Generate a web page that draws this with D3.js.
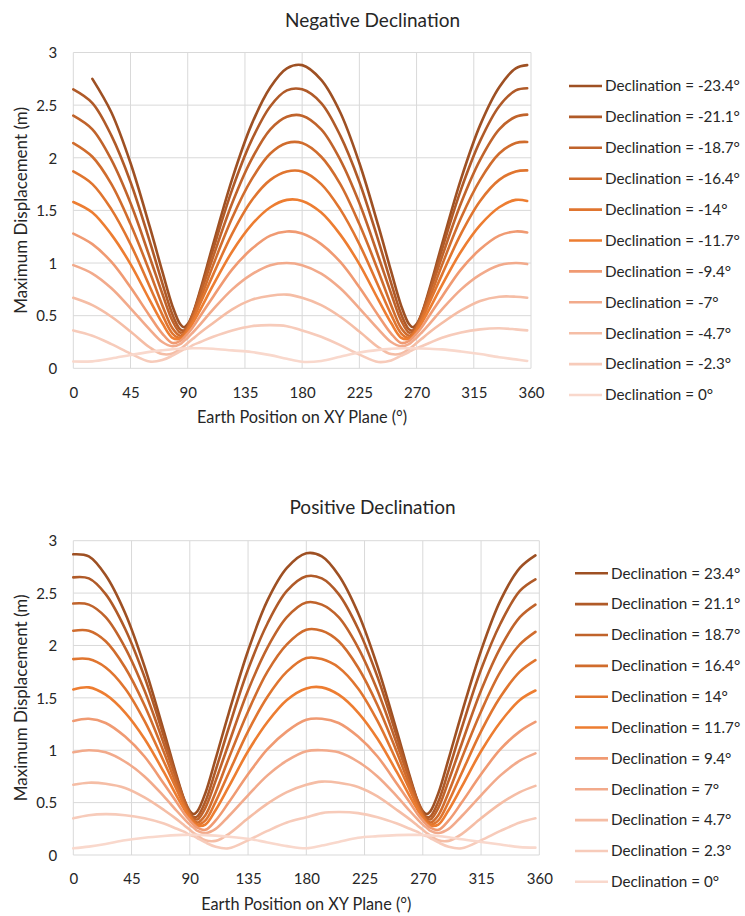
<!DOCTYPE html>
<html><head><meta charset="utf-8">
<script src="https://cdn.jsdelivr.net/npm/d3@7"></script>
<style>body{margin:0;background:#fff}</style>
</head><body>
<svg id="c" width="745" height="916"></svg>
<script>
// ---------- data ----------
const xTicks=[0,45,90,135,180,225,270,315,360];
const yTicks=[0,0.5,1,1.5,2,2.5,3];

const negTitle='Negative Declination';
const posTitle='Positive Declination';
const xTitle='Earth Position on XY Plane (°)';
const yTitle='Maximum Displacement (m)';

const negLabels=['Declination = -23.4°','Declination = -21.1°','Declination = -18.7°','Declination = -16.4°','Declination = -14°','Declination = -11.7°','Declination = -9.4°','Declination = -7°','Declination = -4.7°','Declination = -2.3°','Declination = 0°'];
const posLabels=['Declination = 23.4°','Declination = 21.1°','Declination = 18.7°','Declination = 16.4°','Declination = 14°','Declination = 11.7°','Declination = 9.4°','Declination = 7°','Declination = 4.7°','Declination = 2.3°','Declination = 0°'];

const topX=[0,15,30,45,60,70,78,84,87,90,94,100,110,125,140,155,168,180,195,210,225,240,250,258,264,267,270,274,280,290,305,320,335,348,357];
const neg234=[null,2.75,2.43,1.95,1.35,0.92,0.59,0.42,0.39,0.42,0.52,0.75,1.18,1.80,2.31,2.67,2.85,2.88,2.74,2.43,1.95,1.35,0.92,0.59,0.42,0.39,0.42,0.52,0.75,1.18,1.80,2.31,2.67,2.85,2.88];
const neg211=[2.65,2.52,2.21,1.77,1.21,0.81,0.51,0.37,0.36,0.40,0.51,0.73,1.13,1.70,2.16,2.49,2.64,2.65,2.52,2.21,1.77,1.21,0.81,0.51,0.37,0.36,0.40,0.51,0.73,1.13,1.70,2.16,2.49,2.64,2.66];
const neg187=[2.40,2.27,1.98,1.57,1.06,0.71,0.45,0.34,0.35,0.40,0.51,0.71,1.06,1.57,1.98,2.27,2.39,2.40,2.27,1.98,1.57,1.06,0.71,0.45,0.34,0.35,0.40,0.51,0.71,1.06,1.57,1.98,2.27,2.39,2.41];
const neg164=[2.14,2.01,1.75,1.37,0.92,0.60,0.38,0.31,0.33,0.38,0.48,0.66,0.98,1.43,1.79,2.04,2.14,2.14,2.01,1.75,1.37,0.92,0.60,0.38,0.31,0.33,0.38,0.48,0.66,0.98,1.43,1.79,2.04,2.14,2.15];
const neg140=[1.87,1.75,1.51,1.18,0.78,0.51,0.33,0.29,0.32,0.37,0.46,0.62,0.89,1.28,1.59,1.79,1.87,1.87,1.75,1.51,1.18,0.78,0.51,0.33,0.29,0.32,0.37,0.46,0.62,0.89,1.28,1.59,1.79,1.87,1.88];
const neg117=[1.58,1.48,1.27,0.99,0.65,0.43,0.29,0.28,0.30,0.35,0.43,0.56,0.79,1.11,1.36,1.53,1.60,1.59,1.48,1.27,0.99,0.65,0.43,0.29,0.28,0.30,0.35,0.43,0.56,0.79,1.11,1.36,1.53,1.60,1.59];
const neg094=[1.28,1.18,1.01,0.77,0.50,0.33,0.24,0.26,0.29,0.33,0.39,0.50,0.68,0.94,1.13,1.26,1.30,1.28,1.18,1.01,0.77,0.50,0.33,0.24,0.26,0.29,0.33,0.39,0.50,0.68,0.94,1.13,1.26,1.30,1.29];
const neg070=[0.98,0.90,0.76,0.57,0.37,0.25,0.21,0.23,0.26,0.29,0.34,0.42,0.56,0.75,0.89,0.98,1.00,0.98,0.90,0.76,0.57,0.37,0.25,0.21,0.23,0.26,0.29,0.34,0.42,0.56,0.75,0.89,0.98,1.00,0.99];
const neg047=[0.67,0.60,0.49,0.35,0.20,0.135,0.14,0.185,0.21,0.24,0.28,0.34,0.43,0.56,0.65,0.69,0.70,0.67,0.60,0.49,0.35,0.20,0.135,0.14,0.185,0.21,0.24,0.28,0.34,0.43,0.55,0.64,0.68,0.68,0.67];
const neg023=[0.36,0.31,0.23,0.14,0.064,0.078,0.12,0.16,0.18,0.19,0.22,0.25,0.30,0.36,0.40,0.41,0.40,0.36,0.30,0.22,0.13,0.06,0.075,0.12,0.155,0.175,0.19,0.21,0.24,0.29,0.34,0.37,0.38,0.37,0.36];
const neg000=[0.064,0.066,0.093,0.126,0.156,0.171,0.181,0.186,0.187,0.189,0.19,0.19,0.186,0.17,0.155,0.125,0.09,0.062,0.07,0.11,0.15,0.175,0.185,0.19,0.19,0.19,0.19,0.188,0.185,0.18,0.16,0.135,0.105,0.085,0.07];

const botX=[0,12,25,40,55,70,80,86,90,93,96,102,110,120,135,150,165,180,192,205,220,235,250,260,266,270,273,276,282,290,300,315,330,345,357];
const pos234=[2.87,2.85,2.67,2.31,1.80,1.18,0.75,0.52,0.42,0.39,0.42,0.59,0.92,1.35,1.95,2.43,2.74,2.88,2.85,2.67,2.31,1.80,1.18,0.75,0.52,0.42,0.39,0.42,0.59,0.92,1.35,1.95,2.43,2.74,2.86];
const pos211=[2.65,2.64,2.49,2.16,1.70,1.13,0.73,0.51,0.40,0.36,0.37,0.51,0.81,1.21,1.77,2.21,2.52,2.66,2.64,2.49,2.16,1.70,1.13,0.73,0.51,0.40,0.36,0.37,0.51,0.81,1.21,1.77,2.21,2.52,2.63];
const pos187=[2.40,2.39,2.27,1.98,1.57,1.06,0.71,0.51,0.40,0.35,0.34,0.45,0.71,1.06,1.57,1.98,2.27,2.41,2.39,2.27,1.98,1.57,1.06,0.71,0.51,0.40,0.35,0.34,0.45,0.71,1.06,1.57,1.98,2.27,2.39];
const pos164=[2.14,2.14,2.04,1.79,1.43,0.98,0.66,0.48,0.38,0.33,0.31,0.38,0.60,0.92,1.37,1.75,2.01,2.15,2.14,2.04,1.79,1.43,0.98,0.66,0.48,0.38,0.33,0.31,0.38,0.60,0.92,1.37,1.75,2.01,2.13];
const pos140=[1.87,1.87,1.79,1.59,1.28,0.89,0.62,0.46,0.37,0.32,0.29,0.33,0.51,0.78,1.18,1.51,1.75,1.88,1.87,1.79,1.59,1.28,0.89,0.62,0.46,0.37,0.32,0.29,0.33,0.51,0.78,1.18,1.51,1.75,1.86];
const pos117=[1.58,1.60,1.53,1.36,1.11,0.79,0.56,0.43,0.35,0.30,0.28,0.29,0.43,0.65,0.99,1.27,1.48,1.59,1.60,1.53,1.36,1.11,0.79,0.56,0.43,0.35,0.30,0.28,0.29,0.43,0.65,0.99,1.27,1.48,1.57];
const pos094=[1.28,1.30,1.26,1.13,0.94,0.68,0.50,0.39,0.33,0.29,0.26,0.24,0.33,0.50,0.77,1.01,1.18,1.29,1.30,1.26,1.13,0.94,0.68,0.50,0.39,0.33,0.29,0.26,0.24,0.33,0.50,0.77,1.01,1.18,1.27];
const pos070=[0.98,1.00,0.98,0.89,0.75,0.56,0.42,0.34,0.29,0.26,0.23,0.21,0.25,0.37,0.57,0.76,0.90,0.99,1.00,0.98,0.89,0.75,0.56,0.42,0.34,0.29,0.26,0.23,0.21,0.25,0.37,0.57,0.76,0.90,0.97];
const pos047=[0.67,0.69,0.68,0.64,0.55,0.43,0.34,0.28,0.24,0.21,0.185,0.14,0.135,0.20,0.35,0.49,0.60,0.67,0.70,0.69,0.65,0.56,0.43,0.34,0.28,0.24,0.21,0.185,0.14,0.135,0.20,0.35,0.49,0.60,0.66];
const pos023=[0.35,0.38,0.39,0.38,0.35,0.30,0.25,0.22,0.19,0.18,0.16,0.12,0.078,0.064,0.14,0.23,0.31,0.36,0.40,0.41,0.40,0.36,0.30,0.25,0.22,0.19,0.18,0.16,0.12,0.078,0.064,0.14,0.23,0.31,0.35];
const pos000=[0.064,0.08,0.105,0.14,0.165,0.182,0.19,0.192,0.193,0.193,0.192,0.19,0.185,0.175,0.155,0.12,0.085,0.064,0.09,0.125,0.165,0.18,0.19,0.192,0.192,0.19,0.188,0.186,0.182,0.17,0.15,0.125,0.10,0.075,0.07];

const colors=['#9E5023','#B05A28','#C0632B','#D06C2D','#E0752F','#ED7D31','#F09A72','#F2AA8B','#F5BDA5','#F7CBBA','#F9D8CC'];

// ---------- drawing ----------
const FONT='Lato, "Open Sans", sans-serif';
const TXT='#262626';
const svg=d3.select('#c');
svg.append('rect').attr('width',745).attr('height',916).attr('fill','#fff');

function drawChart(cfg){
  const g=svg.append('g');
  const x=d3.scaleLinear().domain([0,360]).range([cfg.left,cfg.right]);
  const y=d3.scaleLinear().domain([0,3]).range([cfg.bottom,cfg.top]);

  g.append('g').selectAll('line').data(xTicks).join('line')
    .attr('x1',d=>x(d)).attr('x2',d=>x(d)).attr('y1',y(0)).attr('y2',y(3))
    .attr('stroke','#D9D9D9').attr('stroke-width',1);
  g.append('g').selectAll('line').data(yTicks).join('line')
    .attr('x1',x(0)).attr('x2',x(360)).attr('y1',d=>y(d)).attr('y2',d=>y(d))
    .attr('stroke','#D9D9D9').attr('stroke-width',1);

  const xa=g.append('g').attr('transform',`translate(0,${y(0)})`)
    .call(d3.axisBottom(x).tickValues(xTicks).tickSize(0).tickFormat(d=>String(d)));
  xa.select('.domain').remove();
  xa.selectAll('text').attr('y',24).attr('dy','0.35em')
    .attr('font-family',FONT).attr('font-size',15).attr('fill',TXT);

  const ya=g.append('g').attr('transform',`translate(${x(0)},0)`)
    .call(d3.axisLeft(y).tickValues(yTicks).tickSize(0).tickFormat(d=>String(d)));
  ya.select('.domain').remove();
  ya.selectAll('text').attr('x',-16).attr('dy','0.35em')
    .attr('font-family',FONT).attr('font-size',15).attr('fill',TXT);

  const line=d3.line().defined(d=>d[1]!==null)
    .x(d=>x(d[0])).y(d=>y(d[1])).curve(d3.curveCatmullRom.alpha(0.5));
  cfg.series.forEach((s,i)=>{
    g.append('path').datum(cfg.xs.map((v,j)=>[v,s[j]]))
      .attr('d',line).attr('fill','none').attr('stroke',colors[i])
      .attr('stroke-width',2.6).attr('stroke-linejoin','round').attr('stroke-linecap','round');
  });

  g.append('text').attr('x',372.5).attr('y',cfg.titleY).attr('dy','0.35em')
    .attr('text-anchor','middle').attr('font-family',FONT).attr('font-size',19)
    .attr('fill',TXT).text(cfg.title);
  g.append('text').attr('x',(cfg.left+cfg.right)/2).attr('y',cfg.bottom+49).attr('dy','0.35em')
    .attr('text-anchor','middle').attr('font-family',FONT).attr('font-size',16.3)
    .attr('fill',TXT).text(xTitle);
  g.append('text').attr('transform',`translate(21,${(cfg.top+cfg.bottom)/2}) rotate(-90)`)
    .attr('dy','0.35em').attr('text-anchor','middle').attr('font-family',FONT).attr('font-size',17)
    .attr('fill',TXT).text(yTitle);

  const lg=g.append('g');
  cfg.labels.forEach((lab,i)=>{
    const yy=cfg.legY+i*cfg.legDy;
    lg.append('line').attr('x1',cfg.legX).attr('x2',cfg.legX+33).attr('y1',yy).attr('y2',yy)
      .attr('stroke',colors[i]).attr('stroke-width',2.6);
    lg.append('text').attr('x',cfg.legX+36).attr('y',yy).attr('dy','0.35em')
      .attr('font-family',FONT).attr('font-size',15.2).attr('fill',TXT).text(lab);
  });
}

drawChart({left:73.3,right:531,top:52.5,bottom:368.3,xs:topX,
  series:[neg234,neg211,neg187,neg164,neg140,neg117,neg094,neg070,neg047,neg023,neg000],
  title:negTitle,titleY:20,labels:negLabels,legX:569,legY:86,legDy:30.9});
drawChart({left:73.3,right:539.3,top:540.7,bottom:855,xs:botX,
  series:[pos234,pos211,pos187,pos164,pos140,pos117,pos094,pos070,pos047,pos023,pos000],
  title:posTitle,titleY:507,labels:posLabels,legX:575,legY:573.3,legDy:30.85});
</script>
</body></html>
